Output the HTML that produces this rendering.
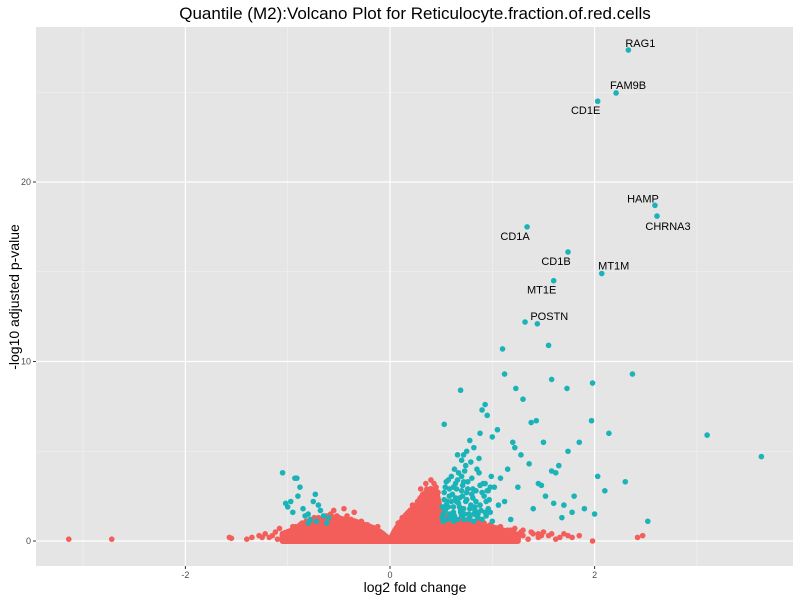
<!DOCTYPE html>
<html><head><meta charset="utf-8"><style>
html,body{margin:0;padding:0;background:#fff;}
svg{display:block;font-family:"Liberation Sans",sans-serif;}
</style></head><body>
<svg id="chart" width="800" height="600">
<rect x="0" y="0" width="800" height="600" fill="#fff"/>
<rect id="panel" x="36" y="27" width="757" height="539" fill="#e5e5e5"/>
<g id="grid"></g>
<g id="areas"></g>
<g id="pts"></g>
<g id="labels"></g>
<g id="axes"></g>
<text x="415" y="19" text-anchor="middle" font-size="17" fill="#000">Quantile (M2):Volcano Plot for Reticulocyte.fraction.of.red.cells</text>
<text x="415" y="592" text-anchor="middle" font-size="14" fill="#000">log2 fold change</text>
<text transform="translate(19,297) rotate(-90)" text-anchor="middle" font-size="14" fill="#000">-log10 adjusted p-value</text>
</svg>
<script>
const xTicks=[-2,0,2];
const xMinor=[-3,-1,1,3];
const yTicks=[0,10,20];
const yMinor=[5,15,25];
// dense cloud envelopes (log2FC, -log10 p)
const redEnvX=[-1.05,-0.95,-0.85,-0.75,-0.65,-0.55,-0.45,-0.35,-0.25,-0.15,-0.07,0.0,0.05,0.1,0.15,0.2,0.25,0.3,0.35,0.4,0.45,0.5,0.55,0.65,0.75,0.85,0.95,1.05,1.15,1.25];
const redEnvY=[0.4,0.6,0.8,1.0,1.1,1.3,1.2,1.1,0.9,0.7,0.4,0.05,0.6,1.0,1.4,1.7,1.9,2.4,2.7,2.9,2.8,1.5,1.2,1.1,1.05,1.0,0.8,0.7,0.5,0.35];
const tealCloudX=[0.52,0.55,0.58,0.62,0.66,0.7,0.74,0.78,0.82,0.86,0.9,0.94,0.98,0.54,0.6,0.64,0.68,0.72,0.76,0.8,0.84,0.88,0.92,0.96,0.56,0.62,0.7,0.78,0.86,0.94,0.53,0.6,0.67,0.73,0.8,0.88,0.57,0.65,0.75,0.83,0.91,0.99,0.59,0.69,0.77,0.85,0.55,0.63,0.71,0.79,0.87,0.95,1.02,1.06,1.0,0.66,0.74,0.82,
0.51,0.53,0.57,0.61,0.63,0.67,0.69,0.71,0.73,0.77,0.79,0.81,0.83,0.85,0.89,0.51,0.54,0.58,0.62,0.65,0.68,0.72,0.75,0.81,0.84,0.9,0.93,0.97,0.58,0.64,0.7,0.76,0.6,0.56,0.66,0.72,0.87,0.93,0.52,0.62];
const tealCloudY=[1.5,2.0,2.5,3.0,3.4,2.8,2.2,1.8,1.5,1.3,1.2,1.4,1.6,3.0,3.6,2.4,1.9,3.3,2.9,2.6,2.2,2.0,2.5,1.8,1.2,1.6,1.4,1.3,1.5,2.2,2.7,2.2,3.8,3.9,3.5,3.1,1.9,2.9,2.3,1.9,3.2,3.6,1.3,1.7,1.2,1.6,3.3,4.0,3.1,4.4,4.6,2.8,3.0,2.0,1.1,4.8,4.2,1.1,
1.3,2.3,3.4,2.6,1.4,2.1,1.6,2.5,1.5,1.5,2.0,2.9,1.7,1.4,1.7,1.9,1.7,2.9,1.9,2.2,2.4,1.8,2.7,2.4,2.8,2.7,1.6,2.3,1.5,3.2,3.6,3.3,1.3,2.2,1.2,1.2,3.8,3.2,1.1,1.1];
const tealX=[2.33,2.21,2.03,2.59,2.61,1.34,1.74,2.07,1.6,1.44,1.32,1.1,1.55,1.12,1.58,1.98,2.37,1.73,1.23,0.69,1.3,0.93,0.9,0.95,1.38,1.43,1.97,2.14,3.1,3.63,2.03,1.74,2.52,0.53,1.05,1.2,1.0,0.88,0.82,0.75,0.7,1.15,1.25,1.45,1.52,1.62,1.7,1.8,1.9,2.0,1.28,1.36,1.5,1.65,1.08,0.98,1.12,1.4,1.58,1.78,1.18,0.96,0.85,0.78,0.72,1.22,1.48,1.6,1.68,2.1,2.3,1.85,-1.05,-0.93,-0.91,-0.97,-1.0,-0.9,-0.85,-0.8,-0.75,-0.7,-0.65,-0.6,-0.88,-0.78,-0.68,-0.95,-0.83,-0.72,-0.62,-1.02,-0.8,-0.73];
const tealY=[27.35,24.96,24.5,18.7,18.1,17.5,16.1,14.9,14.5,12.1,12.2,10.7,10.9,9.3,9.0,8.8,9.3,8.5,8.5,8.4,7.9,7.6,7.3,7.0,6.6,6.7,6.7,6.0,5.9,4.7,3.6,5.0,1.1,6.5,6.2,5.5,5.8,6.0,5.2,5.0,4.5,4.0,3.0,3.2,2.5,3.8,2.0,2.5,1.8,1.5,4.8,4.3,5.5,4.2,3.5,3.0,2.2,1.8,3.9,1.6,1.2,2.8,4.0,5.6,4.8,5.2,3.1,2.1,1.3,2.8,3.3,5.5,3.8,3.5,3.5,2.2,1.9,2.5,1.8,1.5,2.2,2.0,1.4,1.3,3.0,1.2,1.7,1.6,1.4,1.1,1.0,2.1,1.0,2.6];
const redX=[-3.14,-2.72,-1.57,-1.55,-1.4,-1.35,-1.28,-1.22,-1.18,-1.12,-1.08,-1.02,-0.98,-0.92,-1.1,-0.86,-0.78,-0.55,-0.45,-0.35,-0.5,-0.62,0.3,0.35,0.4,0.42,0.48,0.45,0.38,0.6,0.7,0.8,0.9,1.0,1.05,1.1,1.15,1.2,1.25,1.3,1.35,1.4,1.45,1.5,1.55,1.62,1.7,1.78,1.85,1.98,2.42,2.47,0.95,1.02,1.12,1.3,1.45,0.88,0.72,0.6,
-0.95,-0.88,-0.82,-0.74,-0.68,-0.58,-0.52,-0.42,-0.38,-0.28,-0.22,-0.12,0.08,0.12,0.18,0.22,0.27,0.32,0.36,0.43,0.47,0.55,0.62,0.68,0.76,0.84,0.92,0.98,1.08,1.18,1.22,1.28,1.38,1.48,1.58,1.66,1.74,-1.15,-1.25,-0.7];
const redY=[0.1,0.1,0.2,0.15,0.1,0.2,0.3,0.4,0.2,0.5,0.7,0.3,0.5,0.8,0.1,1.0,1.2,1.7,1.8,1.6,1.3,1.4,2.9,3.2,3.4,2.8,0.6,3.0,2.6,1.3,1.2,0.9,0.6,0.8,0.4,0.3,0.6,0.5,0.2,0.3,0.1,0.4,0.2,0.5,0.3,0.1,0.4,0.2,0.3,0.0,0.2,0.3,0.2,0.5,0.1,0.6,0.4,1.1,1.5,0.7,
0.8,0.9,1.1,1.3,1.2,1.5,1.4,1.4,1.2,1.1,0.9,0.8,1.0,1.3,1.6,2.0,2.2,2.6,2.9,3.2,2.7,1.4,1.3,1.2,1.2,1.1,1.0,0.9,0.8,0.6,0.7,0.5,0.5,0.3,0.4,0.2,0.3,0.3,0.2,1.3];
const geneNames=["RAG1","FAM9B","CD1E","HAMP","CHRNA3","CD1A","CD1B","MT1M","MT1E","POSTN"];
const geneX=[2.33,2.21,2.03,2.59,2.61,1.34,1.74,2.07,1.6,1.44];
const geneY=[27.35,24.96,24.5,18.7,18.1,17.5,16.1,14.9,14.5,12.1];
const labelDx=[12,12,-12,-12,11,-12,-12,12,-12,12];
const labelDy=[-3,-4,13,-3,14,13,13,-4,13,-4];
const NS="http://www.w3.org/2000/svg";
const X=v=>390+102.3*v, Y=v=>541-17.95*v;
const RED="#f35e5a", TEAL="#19b3b8";
function mk(t,a,p){const e=document.createElementNS(NS,t);for(const k in a)e.setAttribute(k,a[k]);p.appendChild(e);return e;}
const grid=document.getElementById('grid');
xMinor.forEach(v=>{const l=mk('line',{x1:X(v),x2:X(v),y1:27,y2:566,stroke:'#f2f2f2','stroke-width':0.6},grid);

});
yMinor.forEach(v=>{const l=mk('line',{x1:36,x2:793,y1:Y(v),y2:Y(v),stroke:'#f2f2f2','stroke-width':0.6},grid);

});
const axes=document.getElementById('axes');
xTicks.forEach(v=>{const l=mk('line',{x1:X(v),x2:X(v),y1:27,y2:566,stroke:'#fff','stroke-width':1.2},grid);


const tk=mk('line',{x1:X(v),x2:X(v),y1:566,y2:569,stroke:'#333'},axes);


const t=mk('text',{x:X(v),y:578,'text-anchor':'middle','font-size':9,fill:'#4d4d4d'},axes);t.textContent=v;

});
yTicks.forEach(v=>{const l=mk('line',{x1:36,x2:793,y1:Y(v),y2:Y(v),stroke:'#fff','stroke-width':1.2},grid);


const tk=mk('line',{x1:33,x2:36,y1:Y(v),y2:Y(v),stroke:'#333'},axes);


const t=mk('text',{x:31,y:Y(v)+3,'text-anchor':'end','font-size':9,fill:'#4d4d4d'},axes);t.textContent=v;

});
const areas=document.getElementById('areas');
let d='M'+X(redEnvX[0])+','+Y(0);
redEnvX.forEach((v,i)=>{d+=' L'+X(v)+','+Y(redEnvY[i]);});
d+=' L'+X(redEnvX[redEnvX.length-1])+','+Y(0)+' Z';
const ar=mk('path',{d:d,fill:RED,stroke:RED,'stroke-width':6,'stroke-linejoin':'round'},areas);


const pts=document.getElementById('pts');
function dots(xs,ys,col,name){xs.forEach((v,i)=>{const c=mk('circle',{cx:X(v),cy:Y(ys[i]),r:2.8,fill:col},pts);

});}
dots(redX,redY,RED,'nonsignificant-point');
dots(tealCloudX,tealCloudY,TEAL,'significant-point');
dots(tealX,tealY,TEAL,'significant-point');
const lab=document.getElementById('labels');
geneNames.forEach((g,i)=>{const t=mk('text',{x:X(geneX[i])+labelDx[i],y:Y(geneY[i])+labelDy[i],'text-anchor':'middle','font-size':11,fill:'#000'},lab);t.textContent=g;

});
</script>
</body></html>
